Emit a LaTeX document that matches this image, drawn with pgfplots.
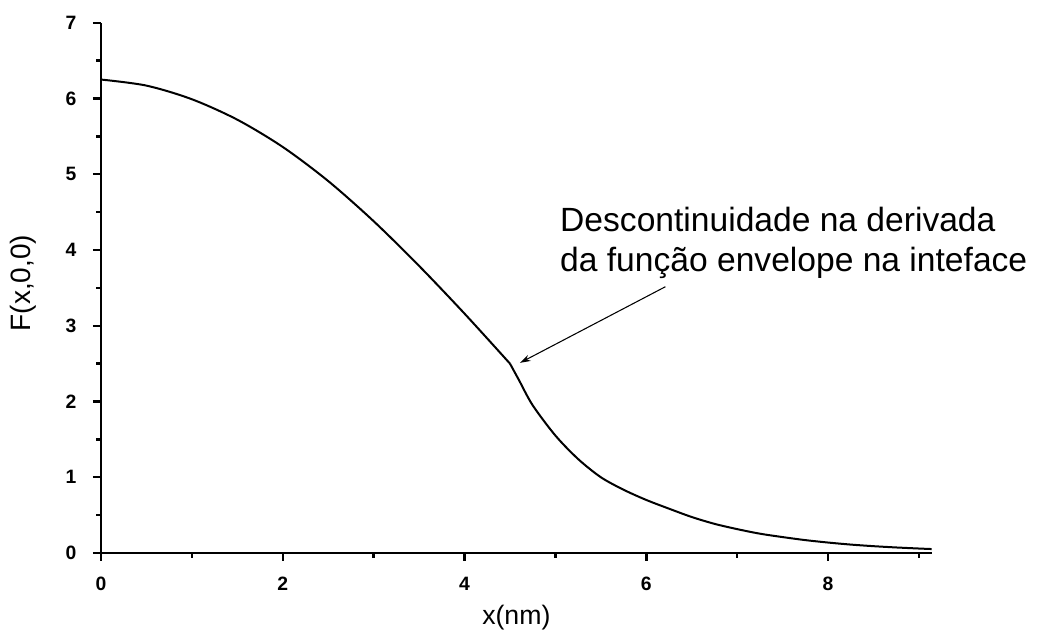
\documentclass[border=0pt]{standalone}
\usepackage{pgfplots}
\pgfplotsset{compat=1.18}
\usepackage{fontspec}
\setmainfont{Liberation Sans}
\usetikzlibrary{arrows.meta}

% envelope function F(x,0,0): inside the well and beyond the interface
\pgfplotstableread{
x     F
0.00  6.25
0.50  6.17
1.00  5.99
1.50  5.72
2.00  5.36
2.50  4.91
3.00  4.38
3.50  3.79
4.00  3.16
4.50  2.50
}\inside
\pgfplotstableread{
x     F
4.50  2.50
4.60  2.28
4.75  1.95
5.00  1.55
5.25  1.24
5.50  1.00
5.75  0.835
6.00  0.70
6.25  0.585
6.50  0.475
6.75  0.385
7.00  0.315
7.25  0.255
7.50  0.21
7.75  0.17
8.00  0.138
8.25  0.111
8.50  0.090
8.75  0.073
9.00  0.059
9.14  0.052
}\outside

\begin{document}
\begin{tikzpicture}
\useasboundingbox (-75.75pt,-66pt) rectangle (704.25pt,414.75pt);
\begin{axis}[
  at={(0pt,0pt)}, anchor=south west,
  scale only axis,
  width=623pt, height=397.7pt,
  xmin=0, xmax=9.14, ymin=0, ymax=7,
  axis x line*=bottom, axis y line*=left,
  axis line style={line width=2pt},
  tick align=outside,
  xtick={0,2,4,6,8}, ytick={0,1,2,3,4,5,6,7},
  minor xtick={1,3,5,7,9},
  minor ytick={0.5,1.5,...,6.5},
  major tick length=6pt, minor tick length=3.5pt,
  tick style={black, line width=1.8pt},
  /pgf/number format/assume math mode=true,
  every tick label/.append style={font=\bfseries, scale=1.45},
  xticklabel style={yshift=-5pt},
  yticklabel style={xshift=-5pt},
  xlabel={x(nm)}, ylabel={F(x,0,0)},
  xlabel style={font=\fontsize{20}{22}\selectfont,
                at={(axis description cs:0.5,-0.121)}, anchor=center},
  ylabel style={font=\fontsize{21}{23}\selectfont,
                at={(axis description cs:-0.094,0.509)}, anchor=center},
  clip=false,
]
\addplot[black, line width=1.5pt, smooth, tension=0.5] table[x=x,y=F] {\inside};
\addplot[black, line width=1.5pt, smooth, tension=0.5] table[x=x,y=F] {\outside};
\draw[-{Stealth[length=8pt,width=5pt]}, line width=0.8pt] (axis cs:6.21,3.515) -- (axis cs:4.61,2.51);
\node[anchor=base west, inner sep=0pt, align=left,
      font=\fontsize{25.2}{29.8}\selectfont] at (axis cs:5.05,3.713)
  {Descontinuidade na derivada\\da função envelope na inteface};
\end{axis}
\end{tikzpicture}
\end{document}
